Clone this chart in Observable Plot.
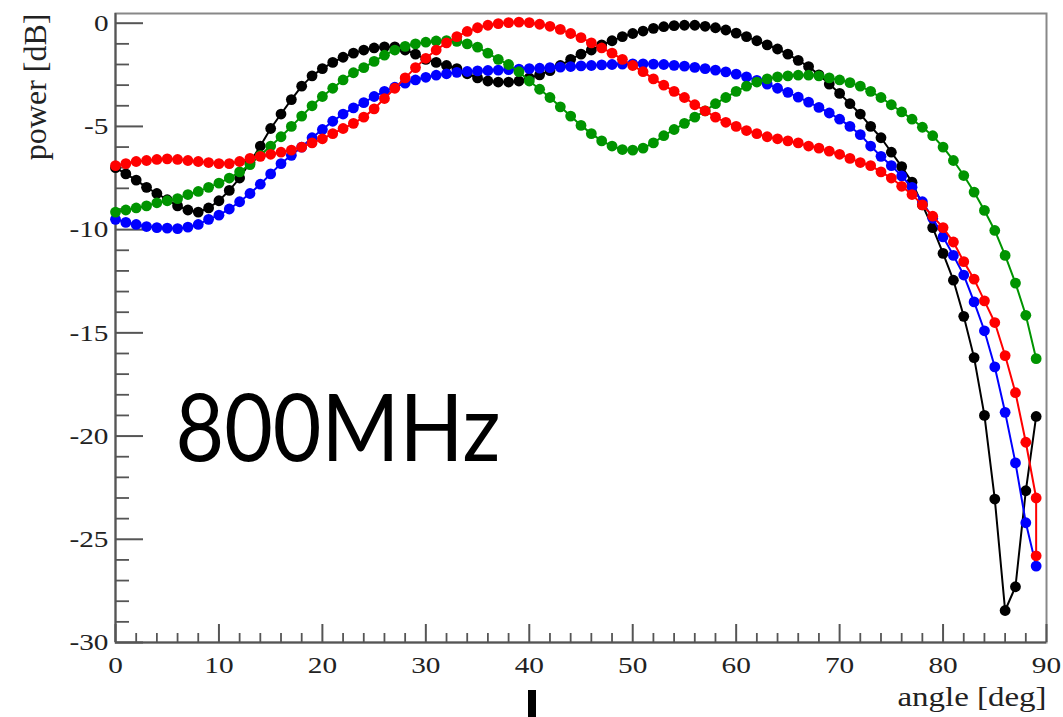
<!DOCTYPE html>
<html><head><meta charset="utf-8">
<script src="https://cdn.jsdelivr.net/npm/d3@7"></script>
<script src="https://cdn.jsdelivr.net/npm/@observablehq/plot@0.6"></script>
<style>
html,body{margin:0;padding:0;background:#fff;}
#wrap{position:relative;width:1063px;height:717px;overflow:hidden;background:#fff;}
#bar{position:absolute;left:528px;top:690px;width:8px;height:27px;background:#000;}
</style></head><body>
<div id="wrap"><div id="chart"></div><div id="bar"></div></div>
<script>
// ---- data (angle in degrees, power in dB) ----
const angles = [0,1,2,3,4,5,6,7,8,9,10,11,12,13,14,15,16,17,18,19,20,21,22,23,24,25,26,27,28,29,30,31,32,33,34,35,36,37,38,39,40,41,42,43,44,45,46,47,48,49,50,51,52,53,54,55,56,57,58,59,60,61,62,63,64,65,66,67,68,69,70,71,72,73,74,75,76,77,78,79,80,81,82,83,84,85,86,87,88,89];
const redAngles = angles.concat([89]);

const blackPower = [-7.0,-7.3,-7.6,-7.95,-8.25,-8.55,-8.85,-9.05,-9.15,-8.95,-8.6,-8.1,-7.5,-6.75,-5.95,-5.1,-4.4,-3.7,-3.05,-2.55,-2.2,-1.9,-1.65,-1.45,-1.3,-1.2,-1.15,-1.15,-1.3,-1.5,-1.75,-1.9,-2.05,-2.2,-2.45,-2.65,-2.8,-2.85,-2.85,-2.8,-2.65,-2.5,-2.3,-2.05,-1.75,-1.5,-1.3,-1.05,-0.85,-0.65,-0.5,-0.38,-0.25,-0.17,-0.12,-0.1,-0.1,-0.15,-0.22,-0.33,-0.48,-0.65,-0.85,-1.05,-1.25,-1.5,-1.8,-2.1,-2.5,-2.95,-3.4,-3.9,-4.4,-5.0,-5.55,-6.25,-6.95,-7.7,-8.8,-9.9,-11.15,-12.45,-14.2,-16.2,-19.0,-23.05,-28.45,-27.3,-22.65,-19.05];

const bluePower = [-9.5,-9.65,-9.75,-9.85,-9.9,-9.93,-9.95,-9.88,-9.75,-9.5,-9.3,-9.0,-8.65,-8.25,-7.8,-7.3,-6.8,-6.4,-6.0,-5.55,-5.15,-4.75,-4.4,-4.1,-3.85,-3.55,-3.3,-3.1,-2.9,-2.75,-2.62,-2.52,-2.45,-2.38,-2.34,-2.31,-2.29,-2.27,-2.25,-2.22,-2.2,-2.18,-2.15,-2.13,-2.1,-2.07,-2.05,-2.02,-2.0,-1.98,-1.97,-1.97,-1.98,-2.0,-2.04,-2.08,-2.14,-2.2,-2.27,-2.36,-2.47,-2.6,-2.77,-2.95,-3.15,-3.35,-3.58,-3.82,-4.08,-4.35,-4.65,-5.0,-5.4,-5.95,-6.45,-6.9,-7.4,-7.95,-8.65,-9.45,-10.35,-11.25,-12.2,-13.5,-14.9,-16.65,-18.85,-21.3,-24.2,-26.3];

const greenPower = [-9.15,-9.05,-8.95,-8.85,-8.7,-8.6,-8.5,-8.3,-8.15,-7.95,-7.75,-7.5,-7.2,-6.85,-6.4,-5.95,-5.5,-5.0,-4.5,-4.0,-3.55,-3.15,-2.75,-2.4,-2.15,-1.85,-1.55,-1.3,-1.12,-1.0,-0.92,-0.86,-0.84,-0.88,-1.0,-1.16,-1.45,-1.75,-2.0,-2.35,-2.8,-3.2,-3.6,-4.05,-4.5,-4.95,-5.35,-5.7,-5.95,-6.12,-6.15,-6.05,-5.8,-5.45,-5.15,-4.85,-4.55,-4.25,-3.9,-3.6,-3.3,-3.05,-2.85,-2.7,-2.6,-2.55,-2.52,-2.52,-2.55,-2.65,-2.75,-2.88,-3.05,-3.3,-3.6,-3.95,-4.3,-4.65,-5.04,-5.45,-6.0,-6.65,-7.38,-8.18,-9.07,-10.04,-11.25,-12.59,-14.15,-16.25];

const redPower = [-6.9,-6.8,-6.7,-6.65,-6.6,-6.57,-6.6,-6.65,-6.7,-6.75,-6.8,-6.8,-6.7,-6.55,-6.45,-6.35,-6.25,-6.15,-6.0,-5.8,-5.6,-5.35,-5.1,-4.85,-4.55,-4.15,-3.65,-3.15,-2.65,-2.15,-1.7,-1.3,-0.95,-0.65,-0.4,-0.22,-0.1,-0.02,0.03,0.05,0.03,-0.05,-0.15,-0.3,-0.5,-0.7,-0.95,-1.2,-1.45,-1.75,-2.05,-2.35,-2.7,-3.0,-3.3,-3.6,-3.95,-4.25,-4.55,-4.8,-5.0,-5.2,-5.35,-5.5,-5.6,-5.7,-5.8,-5.95,-6.05,-6.2,-6.35,-6.55,-6.75,-6.9,-7.2,-7.5,-7.9,-8.3,-8.8,-9.35,-9.9,-10.6,-11.55,-12.4,-13.45,-14.5,-16.1,-17.9,-20.3,-23.0,-25.8];

const seriesNames = ["black","blue","green","red"];
const seriesColors = ["#000000","#0000ff","#009400","#ff0000"];

const xMajorTicks = [0,10,20,30,40,50,60,70,80,90];
const xMinorTicks = [2,4,6,8,12,14,16,18,22,24,26,28,32,34,36,38,42,44,46,48,52,54,56,58,62,64,66,68,72,74,76,78,82,84,86,88];
const yMajorTicks = [0,-5,-10,-15,-20,-25,-30];
const yMinorTicks = [-1,-2,-3,-4,-6,-7,-8,-9,-11,-12,-13,-14,-16,-17,-18,-19,-21,-22,-23,-24,-26,-27,-28,-29];

const xTitle = "angle [deg]";
const yTitle = "power [dB]";
const annotation = "800MHz";

// ---- build table ----
const table = [];
const series = [
  ["black", angles, blackPower],
  ["blue", angles, bluePower],
  ["green", angles, greenPower],
  ["red", redAngles, redPower]
];
for (const [name, xs, ys] of series) xs.forEach((a, i) => table.push({series: name, angle: a, power: ys[i]}));

// ---- layout ----
const W = 1063, H = 717, ML = 115, MR = 17, MT = 13, MB = 75;
const xDomain = [0, 90], yDomain = [-30, 0.47];
const pxPerDeg = (W - ML - MR) / (xDomain[1] - xDomain[0]);
const pxPerDb = (H - MT - MB) / (yDomain[1] - yDomain[0]);
const axisGray = "#555";
const serif = "'Liberation Serif', 'DejaVu Serif', serif";

const seriesMarks = seriesNames.flatMap((name, k) => {
  const d = table.filter(r => r.series === name);
  return [
    Plot.line(d, {x: "angle", y: "power", stroke: seriesColors[k], strokeWidth: 2}),
    Plot.dot(d, {x: "angle", y: "power", r: 5.4, fill: seriesColors[k], stroke: "none"})
  ];
});

const chart = Plot.plot({
  width: W, height: H,
  marginLeft: ML, marginRight: MR, marginTop: MT, marginBottom: MB,
  x: {domain: xDomain},
  y: {domain: yDomain},
  style: {background: "#fff", fontFamily: serif, color: "#222"},
  marks: [
    Plot.frame({stroke: "#888", strokeWidth: 2}),
    Plot.ruleX([xDomain[0]], {stroke: axisGray, strokeWidth: 2}),
    Plot.ruleY([yDomain[0]], {stroke: axisGray, strokeWidth: 2}),
    Plot.ruleX(xMajorTicks, {x: d => d, y1: yDomain[0], y2: yDomain[0] + 18 / pxPerDb, stroke: axisGray, strokeWidth: 2}),
    Plot.ruleX(xMinorTicks, {x: d => d, y1: yDomain[0], y2: yDomain[0] + 9 / pxPerDb, stroke: axisGray, strokeWidth: 1.8}),
    Plot.ruleY(yMajorTicks, {y: d => d, x1: xDomain[0], x2: xDomain[0] + 28 / pxPerDeg, stroke: axisGray, strokeWidth: 2}),
    Plot.ruleY(yMinorTicks, {y: d => d, x1: xDomain[0], x2: xDomain[0] + 14 / pxPerDeg, stroke: axisGray, strokeWidth: 1.8}),
    Plot.axisX(xMajorTicks, {tickSize: 0, tickPadding: 13, fontSize: 24, tickFormat: d => String(d), label: null, fill: "#222"}),
    Plot.axisY(yMajorTicks, {tickSize: 0, tickPadding: 7, fontSize: 24, tickFormat: d => String(d), label: null, fill: "#222"}),
    ...seriesMarks,
    Plot.text([xTitle], {frameAnchor: "bottom-right", textAnchor: "end", lineAnchor: "bottom", dy: 63, fontSize: 27, fill: "#222"}),
    Plot.text([yTitle], {frameAnchor: "top-left", rotate: -90, textAnchor: "end", lineAnchor: "middle", dx: -80, fontSize: 32, fill: "#222"}),
    Plot.text([annotation], {frameAnchor: "top-left", textAnchor: "start", lineAnchor: "bottom", dx: 60, dy: 447, fontSize: 93, fontFamily: "Lato, 'Open Sans', sans-serif", fill: "#000"})
  ]
});
document.getElementById("chart").appendChild(chart);

// the original picture is stretched horizontally: widen the serif labels to match
const stretch = 1.22;
chart.querySelectorAll('g[aria-label="x-axis tick label"] text, g[aria-label="y-axis tick label"] text').forEach(t => {
  const len = t.getComputedTextLength();
  t.setAttribute("textLength", (len * stretch).toFixed(1));
  t.setAttribute("lengthAdjust", "spacingAndGlyphs");
});
chart.querySelectorAll("text").forEach(t => {
  if (t.textContent === xTitle) {
    t.setAttribute("textLength", (t.getComputedTextLength() * stretch).toFixed(1));
    t.setAttribute("lengthAdjust", "spacingAndGlyphs");
  }
  if (t.textContent === annotation) {
    t.setAttribute("textLength", "325");
    t.setAttribute("lengthAdjust", "spacingAndGlyphs");
  }
});
</script>
</body></html>
